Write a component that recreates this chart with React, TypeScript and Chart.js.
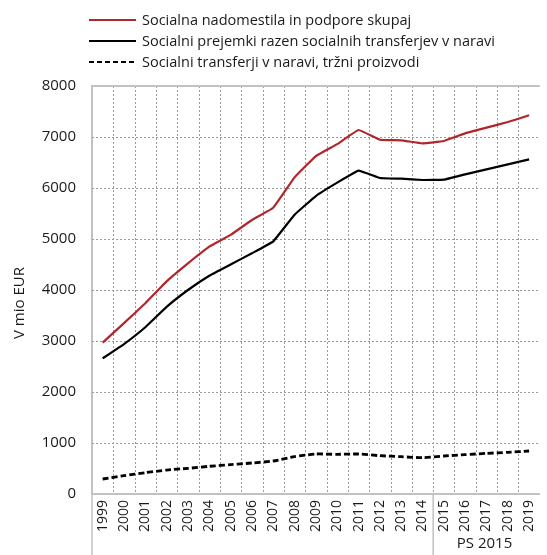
import React, { useEffect, useRef } from "react";
import { Chart, registerables } from "chart.js";

Chart.register(...registerables);

const years = ["1999", "2000", "2001", "2002", "2003", "2004", "2005", "2006", "2007", "2008", "2009", "2010", "2011", "2012", "2013", "2014", "2015", "2016", "2017", "2018", "2019"];
const totalBenefits = [2967, 3350, 3740, 4170, 4523, 4850, 5080, 5373, 5614, 6209, 6627, 6860, 7137, 6947, 6935, 6876, 6922, 7072, 7183, 7294, 7425];
const cashBenefits = [2660, 2940, 3270, 3670, 4000, 4280, 4500, 4720, 4954, 5477, 5843, 6105, 6340, 6196, 6183, 6157, 6163, 6268, 6366, 6464, 6562];
const inKindMarket = [294, 359, 418, 470, 503, 543, 575, 608, 647, 732, 784, 778, 784, 751, 732, 712, 745, 771, 797, 817, 843];
const seriesNames = [
  "Socialna nadomestila in podpore skupaj",
  "Socialni prejemki razen socialnih transferjev v naravi",
  "Socialni transferji v naravi, tržni proizvodi",
];
const yTicks = [0, 1000, 2000, 3000, 4000, 5000, 6000, 7000, 8000];
const yTitle = "V mio EUR";
const groupLabel = "PS 2015";
const groupStartYear = "2015";

const FONT = "'Open Sans', 'Noto Sans', sans-serif";
const RED = "#b1262b";
const BLACK = "#000000";
const AXIS = "#c2c2c2";
const GRID = "#9a9a9a";

export default function App() {
  const ref = useRef<HTMLCanvasElement | null>(null);

  useEffect(() => {
    const canvas = ref.current;
    if (!canvas) return;

    const extras = {
      id: "extras",
      beforeDatasetsDraw(chart: any) {
        // dotted grid lines
        const { ctx, chartArea } = chart;
        const xs = chart.scales.x;
        const ys = chart.scales.y;
        ctx.save();
        ctx.strokeStyle = GRID;
        ctx.lineWidth = 1;
        ctx.setLineDash([2, 2]);
        ctx.beginPath();
        for (let i = 1; i < years.length; i++) {
          const x = Math.round((xs.getPixelForValue(i - 1) + xs.getPixelForValue(i)) / 2) + 0.5;
          ctx.moveTo(x, chartArea.top);
          ctx.lineTo(x, chartArea.bottom);
        }
        yTicks.forEach((v) => {
          if (v === 0) return;
          const y = Math.round(ys.getPixelForValue(v)) + 0.5;
          ctx.moveTo(chartArea.left, y);
          ctx.lineTo(chartArea.right, y);
        });
        ctx.stroke();
        ctx.restore();
      },
      afterDraw(chart: any) {
        const { ctx, chartArea } = chart;
        const xs = chart.scales.x;
        ctx.save();
        // top border
        ctx.strokeStyle = AXIS;
        ctx.lineWidth = 2;
        ctx.beginPath();
        ctx.moveTo(chartArea.left, chartArea.top);
        ctx.lineTo(chartArea.right, chartArea.top);
        ctx.stroke();
        // separators below axis
        const gi = years.indexOf(groupStartYear);
        const sepX = (xs.getPixelForValue(gi - 1) + xs.getPixelForValue(gi)) / 2;
        ctx.lineWidth = 1.5;
        ctx.beginPath();
        ctx.moveTo(chartArea.left, chartArea.bottom);
        ctx.lineTo(chartArea.left, chart.height);
        ctx.moveTo(sepX, chartArea.bottom);
        ctx.lineTo(sepX, chart.height);
        ctx.stroke();
        // group label
        ctx.fillStyle = "#1a1a1a";
        ctx.font = `15px ${FONT}`;
        ctx.textAlign = "center";
        ctx.textBaseline = "middle";
        const endX = xs.getPixelForValue(years.length - 1) + (xs.getPixelForValue(1) - xs.getPixelForValue(0)) / 2;
        ctx.fillText(groupLabel, (sepX + endX) / 2 - 2, 544);
        // y title
        ctx.save();
        ctx.translate(20, 303);
        ctx.rotate(-Math.PI / 2);
        ctx.fillText(yTitle, 0, 0);
        ctx.restore();
        // legend
        const styles = [
          { color: RED, dash: [] as number[], width: 2 },
          { color: BLACK, dash: [] as number[], width: 2.2 },
          { color: BLACK, dash: [5, 3], width: 2.2 },
        ];
        const ly = [20, 41, 62];
        ctx.textAlign = "left";
        ctx.font = `14.5px ${FONT}`;
        seriesNames.forEach((name, i) => {
          const s = styles[i];
          ctx.strokeStyle = s.color;
          ctx.lineWidth = s.width;
          ctx.setLineDash(s.dash);
          ctx.beginPath();
          ctx.moveTo(89, ly[i]);
          ctx.lineTo(136, ly[i]);
          ctx.stroke();
          ctx.setLineDash([]);
          ctx.fillStyle = "#1a1a1a";
          ctx.fillText(name, 142, ly[i] + 0.5);
        });
        ctx.restore();
      },
    };

    const chart = new Chart(canvas, {
      type: "line",
      data: {
        labels: years,
        datasets: [
          { label: seriesNames[0], data: totalBenefits, borderColor: RED, borderWidth: 2.2, pointRadius: 0, tension: 0.08, fill: false },
          { label: seriesNames[1], data: cashBenefits, borderColor: BLACK, borderWidth: 2.2, pointRadius: 0, tension: 0.08, fill: false },
          { label: seriesNames[2], data: inKindMarket, borderColor: BLACK, borderWidth: 2.8, borderDash: [6, 3], pointRadius: 0, tension: 0.2, fill: false },
        ],
      },
      options: {
        animation: false,
        responsive: false,
        devicePixelRatio: 1,
        layout: { padding: { top: 86, left: 0, right: 3, bottom: 0 } },
        plugins: { legend: { display: false }, tooltip: { enabled: false } },
        scales: {
          x: {
            type: "category",
            offset: true,
            grid: { offset: true, drawOnChartArea: false, drawTicks: false },
            border: { display: true, color: AXIS, width: 2 },
            ticks: {
              autoSkip: false,
              minRotation: 90,
              maxRotation: 90,
              padding: 6,
              color: "#1a1a1a",
              font: { family: FONT, size: 14 },
            },
            afterFit: (s: any) => { s.height = 61; },
          },
          y: {
            min: 0,
            max: 8000,
            afterBuildTicks: (s: any) => { s.ticks = yTicks.map((v) => ({ value: v })); },
            grid: { drawOnChartArea: false, drawTicks: false },
            border: { display: true, color: AXIS, width: 2 },
            ticks: {
              padding: 16,
              color: "#1a1a1a",
              font: { family: FONT, size: 15 },
              callback: (v: any) => String(v),
            },
            afterFit: (s: any) => { s.width = 92; },
          },
        },
      },
      plugins: [extras],
    });
    return () => chart.destroy();
  }, []);

  return (
    <div style={{ position: "absolute", left: 0, top: 0, width: 547, height: 555, overflow: "hidden", background: "#fff" }}>
      <canvas ref={ref} width={552} height={555} style={{ display: "block", width: 552, height: 555 }} />
    </div>
  );
}
